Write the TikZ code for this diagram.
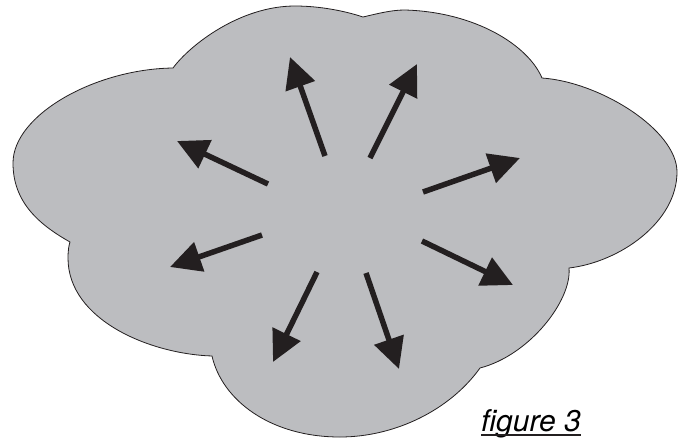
\documentclass[tikz,border=0pt]{standalone}
\usepackage{fontspec}
\newfontfamily\helv{TeX Gyre Heros}
\usetikzlibrary{arrows.meta}
\definecolor{cloudgray}{RGB}{188,189,192}
\definecolor{ink}{RGB}{35,31,32}

\begin{document}
\begin{tikzpicture}[
  x=1pt,y=-1pt,
  cloud/.style={fill=cloudgray,draw=ink,line width=0.8pt},
  ray/.style={draw=ink,line width=5.5pt,-{Triangle[length=31pt,width=30pt]}},
  caption/.style={font=\helv\itshape\fontsize{30}{34}\selectfont,inner sep=0pt,anchor=base west}
]
  \useasboundingbox (0,0) rectangle (688,437);

  % cloud outline, lobe by lobe
  \draw[cloud] (173,68)
    .. controls (190,45) and (240,6) .. (295,6)
    .. controls (320,6) and (345,11) .. (363,17)
    .. controls (380,13) and (392,10) .. (405,10)
    .. controls (475,12) and (528,45) .. (542,78)
    .. controls (600,82) and (677,130) .. (677,172)
    .. controls (677,222) and (620,262) .. (569,268)
    .. controls (572,300) and (530,355) .. (480,368)
    .. controls (450,410) and (395,437) .. (340,437)
    .. controls (270,437) and (222,400) .. (212,356)
    .. controls (150,354) and (68,320) .. (68,258)
    .. controls (68,250) and (69,245) .. (70,242)
    .. controls (40,225) and (13,203) .. (13,163)
    .. controls (13,115) and (95,69) .. (173,68) -- cycle;

  % arrows from the middle outwards
  \coordinate (t1) at (268,184); \coordinate (h1) at (177,141);
  \coordinate (t2) at (325,156); \coordinate (h2) at (290,57);
  \coordinate (t3) at (370,158); \coordinate (h3) at (417,64);
  \coordinate (t4) at (423,192); \coordinate (h4) at (520,158);
  \coordinate (t5) at (262,235); \coordinate (h5) at (170,267);
  \coordinate (t6) at (317,272); \coordinate (h6) at (273,362);
  \coordinate (t7) at (422,241); \coordinate (h7) at (513,285);
  \coordinate (t8) at (366,273); \coordinate (h8) at (399,369);
  \foreach \i in {1,...,8}
    \draw[ray] (t\i) -- (h\i);

  \node[caption] (cap) at (481,431) {figure 3};
  \draw[ink,line width=1.1pt] ([yshift=-4pt]cap.base west) -- ([yshift=-4pt]cap.base east);
\end{tikzpicture}
\end{document}
